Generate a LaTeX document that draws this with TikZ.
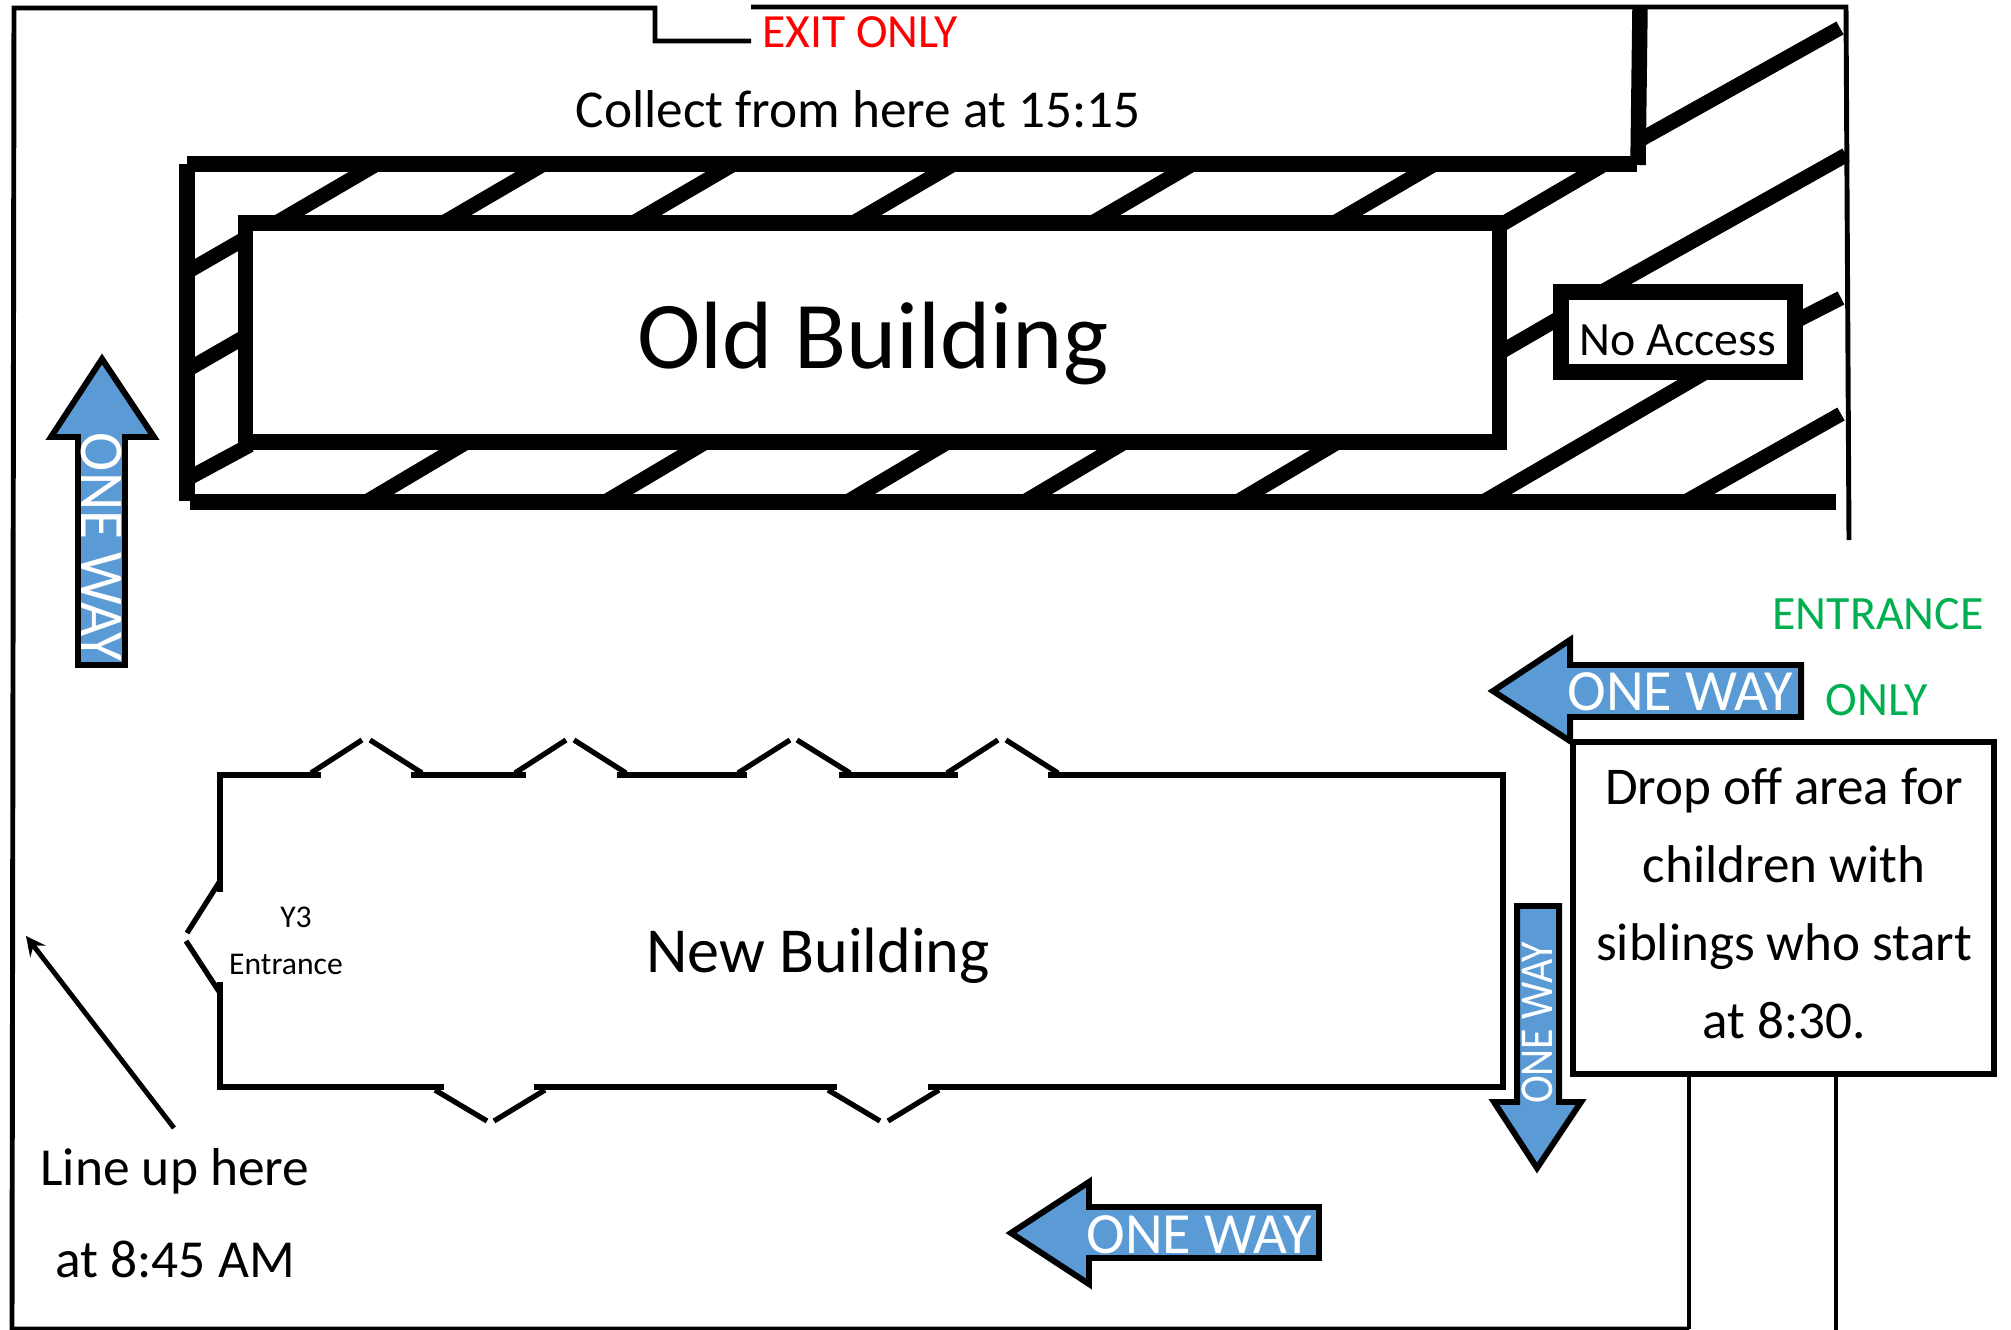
\documentclass[tikz,border=0pt]{standalone}
\usepackage{fontspec}
\usepackage{xcolor}
\setmainfont{Carlito}
\definecolor{arrowblue}{HTML}{5B9BD5}
\definecolor{entrygreen}{HTML}{00B050}
\tikzset{
  fatline/.style={line width=4.4pt},
  stripe/.style={line width=4.2pt},
  wall/.style={line width=1.4pt},
  newwall/.style={line width=1.6pt},
  doorleaf/.style={line width=1.5pt},
  onewayarrow/.style={draw,line width=1.7pt,fill=arrowblue,miter limit=10},
  onewaytext/.style={text=white,inner sep=0pt,font=\fontsize{16.6}{18}\selectfont},
  lbl/.style={inner sep=0pt,align=center}
}
\begin{document}
\begin{tikzpicture}[x=0.01cm,y=-0.01cm]
    \useasboundingbox (0,0) rectangle (2011,1330);

    % Coordinates
    \coordinate (TL) at (14,8);
    \coordinate (BL) at (12,1329);
    \coordinate (BR) at (1689,1329);
    \coordinate (TR) at (1846,7);
    \coordinate (RE) at (1849,540);
    \coordinate (P1) at (1689,1074);
    \coordinate (P2) at (1836,1074);
    \coordinate (P3) at (1836,1330);
    \coordinate (G1) at (655,8);
    \coordinate (G2) at (655,41);
    \coordinate (G3) at (751,41);
    \coordinate (G4) at (751,7);

    % Outer fence
    \draw[wall] (BR) -- (BL) -- (TL) -- (G1) -- (G2) -- (G3);
    \draw[wall] (G4) -- (TR) -- (RE);
    \draw[wall] (BR) -- (P1);
    \draw[wall] (P3) -- (P2);

    % Hatching round the old building
    \foreach \x in {276,443,633,853,1092,1334}
      \draw[stripe] (\x,223) -- ++(101,-59);
    \foreach \x in {366,605,847,1024,1237}
      \draw[stripe] (\x,502) -- ++(101,-60);
    \draw[stripe] (187,272) -- (246,238);
    \draw[stripe] (187,370) -- (246,336);
    \draw[stripe] (187,479) -- (250,445);
    \draw[stripe] (1499,226) -- (1605,164);
    \draw[stripe] (1638,141) -- (1840,28);
    \draw[stripe] (1600,293) -- (1846,155);
    \draw[stripe] (1499,353) -- (1575,309);
    \draw[stripe] (1790,324) -- (1841,298);
    \draw[stripe] (1483,502) -- (1706,372);
    \draw[stripe] (1685,502) -- (1841,414);

    \coordinate (A) at (187,164);
    \coordinate (B) at (1637,164);
    \coordinate (C) at (187,501);
    \coordinate (D) at (190,502);
    \coordinate (E) at (1836,502);
    \coordinate (F) at (1640,9);
    \coordinate (H) at (1638,165);
    \draw[fatline] (A) -- (B);
    \draw[fatline] (A) -- (C);
    \draw[fatline] (D) -- (E);
    \draw[fatline] (F) -- (H);

    \node[draw,fill=white,fatline,minimum width=12.53cm,minimum height=2.19cm] (oldbuilding) at (872.5,332.5) {};
    \node[lbl,font=\fontsize{27.2}{30}\selectfont] (oldname) at (873,344) {Old Building};
    \node[draw,fill=white,fatline,minimum width=2.34cm,minimum height=0.8cm,inner sep=0pt] (noaccess) at (1678,332) {};
    \node[lbl,font=\fontsize{13.6}{16}\selectfont] (noaccesstext) at (1678,340) {No Access};

    % New building, with gaps for the doors
    \draw[newwall] (220,892) -- (220,775) -- (321,775);
    \draw[newwall] (411,775) -- (526,775);
    \draw[newwall] (617,775) -- (747,775);
    \draw[newwall] (839,775) -- (958,775);
    \draw[newwall] (1048,775) -- (1503,775) -- (1503,1087) -- (928,1087);
    \draw[newwall] (837,1087) -- (534,1087);
    \draw[newwall] (444,1087) -- (220,1087) -- (220,982);

    % Doors
    \foreach \x/\y in {311/362,515/566,738/790,947/998}
      \draw[doorleaf] (\x,773) -- (\y,740);
    \foreach \x/\y in {370/422,574/626,797/850,1006/1058}
      \draw[doorleaf] (\x,740) -- (\y,773);
    \foreach \x/\y in {435/487,828/880}
      \draw[doorleaf] (\x,1090) -- (\y,1121);
    \foreach \x/\y in {494/545,888/939}
      \draw[doorleaf] (\x,1121) -- (\y,1090);
    \draw[doorleaf] (220,881) -- (187,933);
    \draw[doorleaf] (186,941) -- (220,993);

    % One way arrows
    \draw[onewayarrow] (1493,691) -- (1570,640) -- (1570,665) -- (1801,665)
      -- (1801,717) -- (1570,717) -- (1570,741) -- cycle;
    \draw[onewayarrow] (1011,1233) -- (1089,1182) -- (1089,1207) -- (1319,1207)
      -- (1319,1258) -- (1089,1258) -- (1089,1284) -- cycle;
    \draw[onewayarrow] (1537,1168) -- (1494,1102) -- (1517,1102) -- (1517,906)
      -- (1559,906) -- (1559,1102) -- (1581,1102) -- cycle;
    \draw[onewayarrow] (102,359) -- (51,437) -- (78,437) -- (78,665)
      -- (125,665) -- (125,437) -- (154,437) -- cycle;
    \node[onewaytext] (way1) at (1680,692) {ONE WAY};
    \node[onewaytext] (way2) at (1199,1235) {ONE WAY};
    \node[onewaytext,rotate=90] (way3) at (1537,1023)
      {\fontsize{13.4}{16}\selectfont\scalebox{0.89}[1]{ONE WAY}};
    \node[onewaytext,rotate=-90] (way4) at (101,547)
      {\fontsize{17.7}{20}\selectfont\scalebox{0.95}[1]{ONE WAY}};

    % Drop off sign
    \node[draw,fill=white,line width=1.6pt,minimum width=4.21cm,minimum height=3.32cm,inner sep=0pt] (dropoff) at (1783.5,908) {};
    \node[lbl,font=\fontsize{15.1}{22.2}\selectfont] (droptext) at (1784,903)
      {Drop off area for\\children with\\siblings who start\\at 8:30.};

    % Labels
    \node[lbl,text=red,font=\fontsize{13.55}{16}\selectfont] (exit) at (860,32) {EXIT ONLY};
    \node[lbl,font=\fontsize{15.15}{18}\selectfont] (collect) at (858,109) {Collect from here at 15:15};
    \node[lbl,font=\fontsize{18.25}{20}\selectfont] (newbuilding) at (818,956) {New Building};
    \node[lbl,font=\fontsize{9}{13.7}\selectfont] (ythree) at (296,917) {Y3};
    \node[lbl,font=\fontsize{9}{13.7}\selectfont] (yentrance) at (286,964) {Entrance};
    \node[lbl,font=\fontsize{15.2}{26.2}\selectfont] (lineup) at (175,1213) {Line up here\\at 8:45 AM};
    \node[lbl,text=entrygreen,font=\fontsize{13.6}{16}\selectfont] (entrance) at (1878,614) {ENTRANCE};
    \node[lbl,text=entrygreen,font=\fontsize{13.6}{16}\selectfont] (only) at (1877,700) {ONLY};

    \coordinate (S) at (174,1128);
    \coordinate (T) at (26,936);
    \draw[wall,-stealth] (S) -- (T);
\end{tikzpicture}
\end{document}
